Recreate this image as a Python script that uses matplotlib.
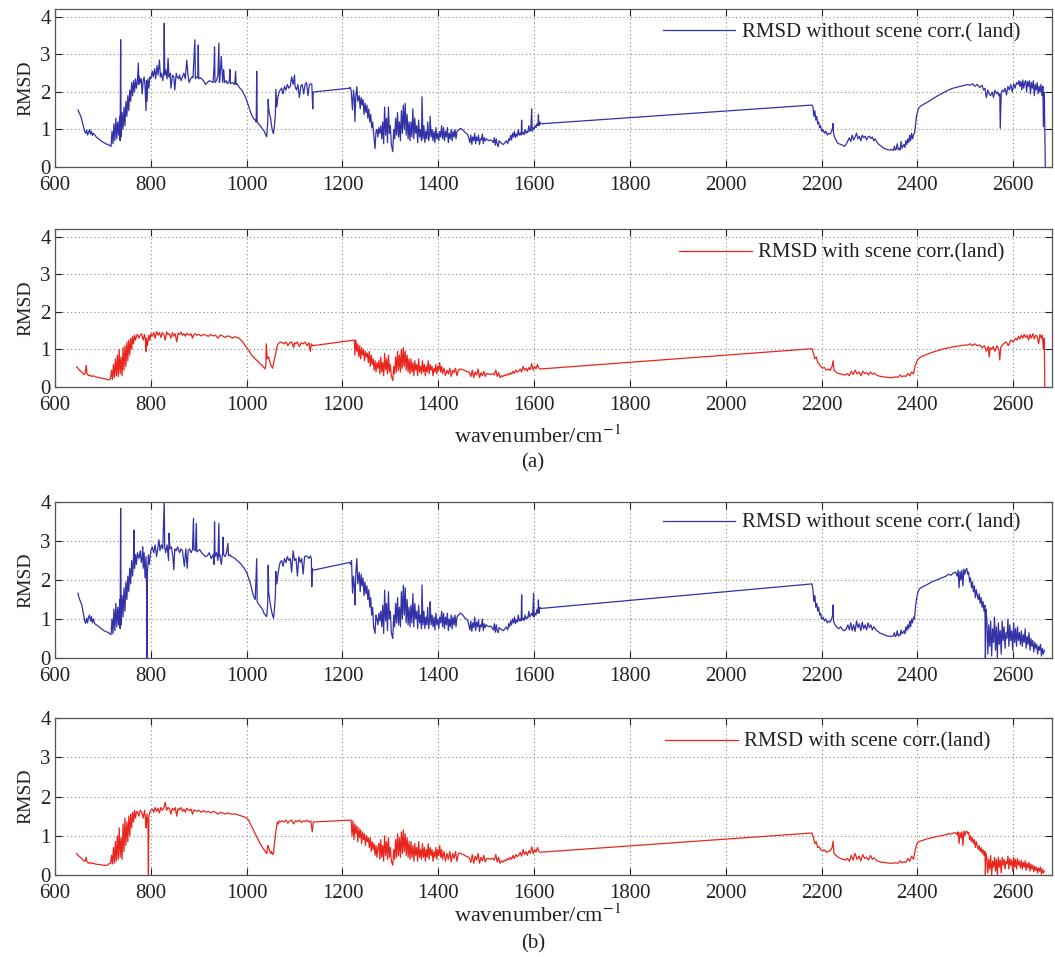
import matplotlib
matplotlib.use("Agg")
import matplotlib.pyplot as plt

# ---------------- data ----------------
wn_a_blue = [648,650,653,656,659,662,664,666,668,670,672,674,676,678,680,683,686,690,694,698,702,706,710,714,717,
             719,721,723,725,727,729,731,733,735,736,737,738,740,742,744,746,748,750,752,754,756,758,760,762,764,766,768,770,
             772,774,775,776,778,780,782,784,786,788,790,791,792,794,796,798,800,
             803,805,808,810,813,815,818,820,822,825,827,828,829,831,834,836,838,840,842,845,848,850,853,855,858,860,863,866,869,872,875,878,880,883,886,888,
             892,893,895,898,899,900,903,906,910,914,918,922,926,930,932,933,934,937,940,942,943,944,947,950,952,954,957,960,964,965,966,970,975,977,978,980,983,
             986,990,994,998,1002,1006,1010,1014,1018,1020,1021,1022,1025,1028,1031,1034,1037,1040,1042,1044,1045,1046,1048,1050,1052,1054,1056,1058,1060,1061,1063,1065,1068,1070,
             1073,1076,1079,1082,1085,1088,1091,1094,1097,1100,1101,1104,1107,1110,1113,1116,1119,1122,1125,1128,1131,1134,1136,1138,1139,
             1140,1215,
             1216,1218,1219,1221,1223,1225,1226,1228,1230,1232,1235,1237,1239,1241,1243,1245,1247,1249,1251,1253,1255,1257,1259,1261,1263,1265,1268,1270,
             1272,1274,1276,1278,1280,1282,1284,1286,1288,1290,1292,1294,1296,1298,1300,1302,1305,1307,1309,1311,1313,1315,1317,1319,1321,1323,1325,1327,1329,1331,1333,1335,1337,1339,
             1341,1343,1345,1347,1349,1351,1353,1355,1357,1359,1361,1363,1365,1366,1368,1370,1372,1374,1376,1378,1380,1382,1383,1385,1387,1389,1391,1393,1395,1397,1399,1401,1403,1405,
             1407,1409,1411,1413,1415,1417,1419,1421,1423,1425,1427,1429,1431,1433,1435,1437,1439,
             1442,1446,1450,1454,1458,1462,
             1466,1468,1470,1472,1474,1476,1478,1480,1482,1484,1486,1488,1490,1492,1494,1496,1498,1500,1503,1506,1509,1512,1515,1517,1519,1521,1523,1525,1527,1530,1533,1536,1539,1542,1545,
             1547,1549,1551,1553,1555,1557,1559,1561,1563,1565,1567,1569,1571,1573,1574,1575,1577,1579,1581,1583,1585,1587,1589,1591,1593,1595,1596,1598,1600,1602,1604,1606,1608,1609,1610,1612,1613,
             2180,
             2182,2184,2186,2188,2190,2192,2194,2196,2198,2200,2203,2206,2209,2212,2215,2218,2221,2223,2224,2225,2227,2230,2233,2236,2240,2244,2248,
             2252,2255,2258,2261,2264,2267,2270,2273,2276,2279,2282,2285,2288,2291,2294,2297,2300,2303,2306,2309,2312,2315,
             2318,2322,2326,2330,2334,2338,2342,2346,2350,2352,2354,2356,2358,2360,2362,2364,2366,2368,2370,2372,2374,2376,2378,2380,2382,2384,2386,2388,2390,2392,2394,
             2396,2398,2400,2402,2405,2410,2420,2430,2440,2450,2460,2470,2480,2490,2500,
             2505,2510,2515,2520,2525,2530,2535,2538,2541,2544,2547,2550,2553,2556,2559,2562,2565,2568,2570,2572,2573,2575,2577,2580,2583,2586,2589,2592,2595,2598,2601,2604,2607,
             2610,2612,2614,2616,2618,2620,2622,2624,2626,2628,2630,2632,2634,2636,2638,2640,2642,2644,2646,2648,2650,2652,2654,2656,2658,2660,2662,2663,2665,2667]
rmsd_a_blue = [1.52,1.45,1.38,1.25,1.10,0.95,0.90,0.98,0.85,0.92,1.00,0.88,0.95,0.84,0.90,0.86,0.80,0.76,0.72,0.68,0.65,0.62,0.60,0.58,0.55,
               0.95,0.62,1.15,0.70,1.30,0.75,1.20,0.85,1.35,0.70,3.39,0.80,1.45,1.00,1.60,1.10,1.75,1.35,1.90,1.50,2.05,1.75,2.25,1.90,2.30,2.00,2.35,2.10,
               2.30,2.77,2.20,2.40,2.25,2.35,1.95,2.30,2.40,2.15,1.50,2.30,1.75,2.35,2.10,2.40,2.35,
               2.55,2.40,2.62,2.35,2.70,2.45,2.85,2.40,2.50,2.30,2.55,3.83,2.45,2.60,2.35,2.90,2.40,2.50,2.10,2.45,2.40,2.05,2.50,2.40,2.35,2.45,2.30,2.40,2.50,2.35,2.85,2.40,2.25,2.35,2.40,2.38,
               3.39,2.35,2.40,2.38,3.25,2.35,2.38,2.35,2.30,2.20,2.25,2.30,2.28,2.25,2.70,3.20,2.25,2.30,2.45,3.30,2.25,2.30,2.95,2.25,2.60,2.25,2.30,2.22,2.30,2.60,2.22,2.25,2.20,2.55,2.20,2.22,2.15,
               2.10,2.05,1.95,1.85,1.70,1.55,1.40,1.30,1.25,1.20,2.55,1.20,1.15,1.10,1.05,1.00,0.95,0.85,0.81,1.20,1.80,1.55,1.40,1.30,1.10,0.95,0.89,1.10,1.40,2.07,1.60,1.85,2.00,2.05,
               2.10,1.95,2.15,2.05,2.20,2.10,2.15,2.40,2.20,2.45,2.15,2.05,2.20,1.85,2.15,2.20,1.95,2.20,2.25,1.90,2.20,2.22,2.20,1.55,2.00,
               2.00,2.10,
               2.12,2.05,1.86,1.52,2.05,1.80,1.21,1.90,2.14,1.75,1.90,1.55,1.85,1.65,1.80,1.40,1.70,1.45,1.65,1.30,1.55,1.20,1.40,1.05,1.20,0.89,0.49,0.95,
               1.00,0.80,1.05,0.90,1.10,0.75,1.20,0.62,1.60,0.85,1.30,0.65,1.60,0.90,1.10,0.60,0.41,1.00,0.75,1.30,0.85,1.45,0.80,1.20,0.70,1.50,0.90,1.65,1.00,1.70,0.85,1.40,0.75,1.20,
               0.70,1.20,0.80,1.55,0.75,1.30,0.90,1.10,0.65,1.25,0.80,1.00,0.70,1.87,0.75,1.10,0.65,0.95,0.75,1.20,0.70,0.90,1.35,0.80,1.00,0.70,0.95,0.65,1.05,0.75,0.90,0.70,0.95,0.80,
               1.10,0.75,1.05,0.70,0.95,0.80,1.05,0.65,0.90,0.75,1.00,0.70,0.95,0.80,1.00,0.75,0.95,
               0.98,1.03,1.00,0.95,0.90,0.85,
               0.65,0.85,0.60,0.80,0.70,0.90,0.62,0.80,0.70,0.85,0.60,0.75,0.72,0.88,0.62,0.78,0.70,0.75,0.72,0.70,0.72,0.70,0.65,0.78,0.58,0.75,0.60,0.54,0.70,0.65,0.62,0.60,0.65,0.70,0.62,
               0.75,0.70,0.85,0.72,0.90,0.80,0.95,0.78,0.88,0.82,1.00,0.85,0.90,0.85,1.25,0.88,0.92,0.86,1.00,0.90,0.95,0.92,1.10,0.95,1.00,1.55,0.95,1.05,1.00,1.10,1.05,1.15,1.10,1.39,1.10,1.20,1.15,
               1.65,
               1.60,1.35,1.50,1.25,1.35,1.15,1.20,1.05,1.10,0.95,1.00,0.90,0.95,0.85,0.90,0.88,0.95,1.05,1.16,0.90,0.80,0.72,0.65,0.62,0.60,0.58,0.55,
               0.62,0.70,0.78,0.68,0.85,0.72,0.80,0.90,0.75,0.82,0.70,0.85,0.78,0.82,0.72,0.80,0.82,0.76,0.80,0.70,0.75,0.68,
               0.62,0.58,0.54,0.50,0.48,0.46,0.45,0.47,0.44,0.55,0.45,0.48,0.62,0.46,0.50,0.45,0.68,0.50,0.55,0.60,0.52,0.70,0.60,0.75,0.65,0.85,0.70,0.90,0.75,0.85,0.90,
               1.10,1.35,1.45,1.55,1.60,1.65,1.72,1.80,1.88,1.95,2.02,2.08,2.12,2.15,2.18,
               2.20,2.18,2.22,2.15,2.20,2.12,2.18,2.05,2.10,1.85,2.05,1.95,1.90,2.00,1.85,2.05,1.95,2.00,1.90,1.95,1.03,1.95,2.05,2.00,2.10,1.92,2.15,2.05,2.20,2.00,2.22,2.10,2.25,
               2.20,2.30,2.15,2.28,2.05,2.32,2.10,2.25,2.30,2.00,2.28,2.15,2.30,1.95,2.25,2.10,2.30,1.90,2.20,2.05,2.25,1.95,2.15,2.00,2.20,1.90,2.15,1.08,2.00,0.00]

wn_a_red = [645,648,651,654,657,660,663,665,667,670,673,676,680,684,688,692,696,700,704,708,712,716,
            718,720,722,724,726,728,730,732,734,736,738,740,742,744,746,748,750,752,754,756,758,760,762,764,766,768,770,
            772,775,778,781,784,787,789,790,791,793,796,798,800,
            803,806,809,812,815,818,821,824,827,830,833,836,839,842,845,848,851,854,857,860,863,866,869,872,875,878,881,884,887,890,893,896,900,905,910,915,920,925,930,935,940,945,950,955,960,965,970,975,980,984,
            988,992,996,1000,1004,1008,1012,1016,1020,1024,1028,1032,1036,1038,1040,1041,1043,1046,1048,1050,1052,1054,1056,1058,1060,1062,1064,1066,1068,1070,
            1074,1078,1082,1086,1090,1094,1098,1100,1102,1106,1110,1114,1118,1122,1126,1130,1133,1135,1138,
            1225,
            1226,1228,1230,1232,1234,1236,1238,1240,1242,1244,1246,1248,1250,1252,1254,1256,1258,1260,1262,1264,1266,1268,1270,1272,1274,
            1276,1278,1280,1282,1284,1286,1288,1290,1292,1294,1296,1298,1300,1302,1305,1307,1309,1311,1313,1315,1317,1319,1321,1323,1325,1327,1329,1331,1333,1335,1337,1339,
            1341,1343,1345,1347,1349,1351,1353,1355,1357,1359,1361,1363,1365,1367,1369,1371,1373,1375,1377,1379,1381,1383,1385,1387,1389,1391,1393,1395,1397,1399,1401,1403,1405,1407,1409,
            1412,1415,1418,1421,1424,1427,1430,1433,1436,1439,1442,1446,
            1452,1458,1464,
            1468,1471,1474,1477,1480,1483,1486,1489,1492,1495,1498,1501,1505,1509,1513,1517,1520,1523,1526,1529,1532,1535,1538,1541,1544,1547,1550,1553,1556,1559,1562,1565,
            1568,1571,1574,1577,1580,1583,1586,1589,1592,1595,1598,1601,1604,1607,1610,1613,
            2180,
            2183,2186,2189,2192,2195,2198,2202,2206,2210,2214,2218,2222,2224,2226,2230,2235,2240,2245,2250,
            2254,2258,2262,2266,2270,2274,2278,2282,2286,2290,2294,2298,2302,2306,2310,2314,2318,
            2324,2330,2336,2342,2348,2354,2360,2364,2368,2372,2376,2380,2384,2388,2392,2395,2398,2400,
            2405,2410,2420,2430,2440,2450,2460,2470,2480,2490,2500,
            2505,2510,2515,2520,2525,2530,2535,2540,2544,2548,2550,2552,2555,2558,2562,2566,2570,2572,2574,2576,2580,2585,2590,2595,2600,2605,
            2608,2611,2614,2617,2620,2623,2626,2629,2632,2635,2638,2641,2644,2647,2650,2653,2656,2659,2661,2663,2665,2666]
rmsd_a_red = [0.54,0.50,0.45,0.42,0.38,0.33,0.35,0.58,0.35,0.30,0.32,0.28,0.30,0.27,0.26,0.25,0.24,0.23,0.22,0.20,0.19,0.22,
              0.45,0.20,0.60,0.25,0.75,0.30,0.85,0.28,1.00,0.35,0.80,0.30,1.05,0.45,1.10,0.55,1.20,0.70,1.25,0.85,1.30,1.00,1.35,1.15,1.38,1.25,1.35,
              1.40,1.30,1.38,1.42,1.25,1.40,1.20,0.95,1.30,1.10,1.38,1.25,1.42,
              1.35,1.45,1.30,1.48,1.38,1.45,1.32,1.45,1.40,1.25,1.47,1.40,1.42,1.30,1.45,1.35,1.42,1.20,1.44,1.40,1.46,1.38,1.42,1.35,1.43,1.40,1.38,1.42,1.30,1.40,1.42,1.38,1.40,1.36,1.40,1.38,1.35,1.40,1.36,1.38,1.30,1.38,1.36,1.32,1.36,1.35,1.30,1.34,1.32,1.30,
              1.25,1.20,1.12,1.05,0.98,0.90,0.82,0.78,0.72,0.68,0.62,0.58,0.52,0.48,0.55,1.15,0.75,0.80,0.70,0.60,0.55,0.50,0.60,0.75,0.85,1.00,1.10,1.15,1.18,1.20,
              1.18,1.15,1.20,1.10,1.18,1.20,1.05,1.18,1.15,1.20,1.08,1.18,1.15,1.20,1.10,1.18,0.95,1.15,1.10,
              1.25,
              0.85,1.25,0.95,1.15,0.80,1.10,0.75,1.05,0.85,1.00,0.70,0.95,0.80,0.90,0.65,0.95,0.55,0.85,0.60,0.75,0.45,0.70,0.40,0.65,0.50,
              0.70,0.35,0.80,0.40,0.65,0.30,0.90,0.45,0.75,0.35,0.85,0.40,0.60,0.30,0.17,0.55,0.35,0.80,0.40,0.95,0.45,0.85,0.40,1.00,0.50,1.05,0.55,0.95,0.45,0.85,0.40,0.75,
              0.35,0.75,0.40,0.65,0.30,0.70,0.45,0.60,0.30,0.75,0.40,0.55,0.35,0.70,0.40,0.60,0.30,0.55,0.40,0.70,0.35,0.60,0.45,0.55,0.30,0.50,0.40,0.60,0.35,0.55,0.45,0.65,0.40,0.55,0.35,
              0.50,0.30,0.45,0.35,0.50,0.28,0.45,0.38,0.50,0.30,0.45,0.48,
              0.46,0.42,0.40,
              0.28,0.45,0.25,0.40,0.32,0.48,0.25,0.38,0.30,0.42,0.28,0.36,0.35,0.33,0.36,0.32,0.45,0.28,0.38,0.25,0.30,0.28,0.32,0.30,0.35,0.32,0.38,0.34,0.42,0.36,0.45,0.40,
              0.42,0.48,0.40,0.55,0.45,0.50,0.42,0.52,0.46,0.62,0.45,0.55,0.48,0.60,0.50,0.48,
              1.02,
              0.90,0.75,0.80,0.65,0.62,0.55,0.50,0.52,0.45,0.48,0.44,0.55,0.70,0.45,0.40,0.36,0.35,0.33,0.32,
              0.36,0.30,0.42,0.33,0.45,0.35,0.40,0.30,0.42,0.36,0.38,0.32,0.40,0.34,0.37,0.33,0.30,
              0.28,0.27,0.26,0.25,0.25,0.27,0.26,0.32,0.27,0.30,0.28,0.36,0.30,0.40,0.35,0.55,0.65,0.72,
              0.78,0.82,0.87,0.92,0.96,1.00,1.03,1.06,1.08,1.10,1.12,
              1.12,1.15,1.10,1.15,1.10,1.12,1.05,1.10,0.95,1.08,0.80,1.05,1.00,1.08,0.95,1.10,1.00,0.72,1.05,1.10,1.15,1.20,1.10,1.25,1.20,1.30,
              1.25,1.35,1.28,1.38,1.30,1.40,1.32,1.38,1.25,1.40,1.30,1.42,1.28,1.38,1.35,1.15,1.40,1.30,1.38,1.00,1.30,0.00]

wn_b_blue = [648,650,653,656,659,662,664,666,668,670,672,674,676,678,680,683,686,690,694,698,702,706,710,714,717,
             719,721,723,725,727,729,731,733,735,736,737,738,740,742,744,746,748,750,752,754,756,758,760,762,764,765,766,768,770,
             772,775,778,780,782,783,784,786,788,790,791,792,793,795,797,800,
             803,806,809,812,815,817,819,822,825,828,829,831,834,837,838,840,843,846,848,850,853,856,860,863,866,870,873,876,878,881,884,887,
             889,890,893,895,896,899,902,906,910,914,918,922,926,930,932,933,934,937,940,942,943,944,947,950,951,952,955,958,961,962,965,968,972,976,980,985,990,995,1000,
             1004,1008,1012,1014,1016,1018,1021,1022,1024,1027,1030,1033,1036,1039,1042,1044,1045,1046,1048,1050,1052,1054,1056,1058,1060,1061,1063,1066,1068,1070,
             1073,1076,1079,1082,1085,1088,1091,1094,1097,1100,1103,1106,1109,1112,1115,1118,1121,1124,1127,1130,1133,1135,1136,1137,1138,
             1215,
             1217,1219,1221,1223,1225,1226,1228,1230,1232,1235,1237,1239,1241,1243,1245,1247,1249,1251,1253,1255,1257,1259,1261,1263,1265,1268,1270,
             1272,1274,1276,1278,1280,1282,1284,1286,1288,1290,1292,1294,1296,1298,1300,1302,1305,1307,1309,1311,1313,1315,1317,1319,1321,1323,1325,1327,1329,1331,1333,1335,1337,1339,
             1341,1343,1345,1347,1349,1351,1353,1355,1357,1359,1361,1363,1365,1366,1368,1370,1372,1374,1376,1378,1380,1382,1383,1385,1387,1389,1391,1393,1395,1397,1399,1401,1403,1405,
             1407,1409,1411,1413,1415,1417,1419,1421,1423,1425,1427,1429,1431,1433,1435,1437,1439,
             1442,1446,1450,1454,1458,1462,
             1466,1468,1470,1472,1474,1476,1478,1480,1482,1484,1486,1488,1490,1492,1494,1496,1498,1500,1503,1506,1509,1512,1515,1517,1519,1521,1523,1525,1527,1530,1533,1536,1539,1542,1545,
             1547,1549,1551,1553,1555,1557,1559,1561,1563,1565,1567,1569,1571,1573,1574,1575,1577,1579,1581,1583,1585,1587,1589,1591,1593,1595,1597,1599,1600,1602,1604,1606,1608,1609,1610,1612,1613,
             2180,
             2182,2184,2186,2188,2190,2192,2194,2196,2198,2200,2203,2206,2209,2212,2215,2218,2221,2223,2224,2225,2227,2230,2233,2236,2240,2244,2248,
             2252,2255,2258,2261,2264,2267,2270,2273,2276,2279,2282,2285,2288,2291,2294,2297,2300,2303,2306,2309,2312,2315,
             2318,2322,2326,2330,2334,2338,2342,2346,2350,2352,2354,2356,2358,2360,2362,2364,2366,2368,2370,2372,2374,2376,2378,2380,2382,2384,2386,2388,2390,2392,2394,
             2396,2398,2400,2402,2405,2410,2420,2430,2440,2450,2460,2465,2470,2475,2480,2483,2485,2487,2489,2491,2493,2495,2497,2499,2501,2503,
             2505,2507,2509,2511,2513,2515,2517,2519,2521,2523,2525,2527,2529,2531,2533,2535,2537,2539,2541,2542,2543,
             2545,2547,2549,2551,2553,2555,2557,2559,2561,2563,2565,2567,2569,2571,2573,2575,2577,2579,2581,2583,2585,2587,2589,2591,2593,2595,2597,2599,
             2601,2603,2605,2607,2609,2611,2613,2615,2617,2619,2621,2623,2625,2627,2629,2631,2633,2635,2637,2639,2641,2643,2645,2647,2649,2651,2653,2655,2657,2659,2661,2663,2665]
rmsd_b_blue = [1.66,1.55,1.45,1.36,1.15,0.95,0.89,1.02,0.90,1.05,1.10,0.95,1.06,0.90,1.00,0.88,0.85,0.82,0.78,0.74,0.70,0.68,0.66,0.63,0.60,
               1.00,0.62,1.25,0.70,1.40,0.80,1.30,0.85,1.50,0.75,3.84,0.85,1.60,1.05,1.80,1.20,1.95,1.50,2.10,1.70,2.30,1.90,2.50,2.10,2.60,3.28,2.30,2.65,2.40,
               2.70,2.55,2.75,2.45,2.60,2.85,2.30,2.70,2.05,2.60,2.00,0.00,2.20,2.65,2.40,2.75,
               2.85,2.70,2.90,2.60,2.85,3.03,2.75,2.90,2.80,4.05,2.85,2.70,2.90,2.50,3.20,2.80,2.85,2.60,2.26,2.80,2.75,2.85,2.70,2.80,2.75,2.35,2.80,2.30,2.75,2.80,2.70,2.78,
               3.58,2.78,2.75,3.45,2.72,2.75,2.78,2.70,2.65,2.60,2.62,2.70,2.55,2.65,2.40,3.49,2.60,2.70,2.50,3.45,2.60,2.65,2.40,2.70,3.10,2.65,2.60,2.70,2.94,2.62,2.65,2.60,2.58,2.55,2.50,2.45,2.38,2.30,2.20,
               2.05,1.90,1.70,1.60,1.55,1.50,2.55,1.45,1.40,1.35,1.30,1.25,1.15,1.10,1.06,1.40,2.38,1.70,1.50,1.35,1.20,1.10,1.02,1.25,1.60,2.22,1.90,2.20,2.35,2.45,
               2.50,2.35,2.55,2.45,2.60,2.50,2.55,2.20,2.75,2.50,2.55,2.10,2.60,2.45,2.55,2.15,2.60,2.62,2.60,2.55,2.62,2.55,1.83,2.30,2.25,
               2.45,
               2.40,2.50,1.66,2.10,1.80,1.36,2.20,2.55,1.90,2.20,1.70,2.15,1.85,2.05,1.60,1.95,1.65,1.85,1.50,1.75,1.30,1.55,1.10,1.30,0.80,0.63,1.10,
               1.00,0.85,1.15,0.95,1.20,0.80,1.35,0.63,1.74,0.95,1.40,0.70,1.70,1.00,1.20,0.65,0.50,1.10,0.80,1.40,0.90,1.55,0.85,1.30,0.80,1.70,1.00,1.87,1.10,1.80,0.90,1.50,0.85,1.30,
               0.80,1.35,0.90,1.65,0.80,1.40,1.00,1.20,0.75,1.35,0.90,1.10,0.75,1.87,0.85,1.20,0.75,1.05,0.85,1.30,0.75,1.00,1.44,0.85,1.10,0.80,1.05,0.72,1.15,0.85,1.00,0.75,1.05,0.90,
               1.20,0.80,1.15,0.75,1.05,0.85,1.15,0.70,1.00,0.80,1.10,0.75,1.05,0.85,1.10,0.80,1.05,
               1.10,1.15,1.12,1.05,1.00,0.95,
               0.72,0.95,0.68,0.90,0.78,1.05,0.70,0.92,0.80,0.98,0.68,0.85,0.80,1.00,0.70,0.88,0.78,0.85,0.82,0.80,0.82,0.78,0.72,0.88,0.66,0.85,0.70,0.65,0.78,0.75,0.72,0.70,0.75,0.80,0.72,
               0.88,0.80,0.95,0.85,1.00,0.90,1.05,0.88,0.98,0.92,1.10,0.95,1.00,0.95,1.62,0.98,1.02,0.96,1.10,1.00,1.05,1.02,1.20,1.05,1.10,1.15,1.08,1.66,1.05,1.15,1.10,1.25,1.15,1.49,1.15,1.30,1.27,
               1.90,
               1.75,1.45,1.60,1.30,1.40,1.20,1.30,1.10,1.15,1.00,1.05,0.95,1.00,0.90,0.95,0.92,1.00,1.10,1.36,0.95,0.88,0.82,0.78,0.75,0.80,0.72,0.70,
               0.75,0.85,0.72,0.90,0.70,0.85,0.68,0.95,0.78,0.88,0.70,0.92,0.75,0.85,0.72,0.90,0.78,0.85,0.72,0.80,0.75,0.70,
               0.68,0.64,0.62,0.60,0.58,0.56,0.56,0.55,0.57,0.65,0.55,0.58,0.70,0.56,0.60,0.58,0.72,0.62,0.65,0.70,0.62,0.80,0.70,0.85,0.75,0.95,0.80,1.00,0.90,1.05,1.00,
               1.30,1.50,1.62,1.72,1.78,1.82,1.88,1.95,2.00,2.05,2.10,2.15,2.12,2.18,2.20,2.10,2.25,1.80,2.22,2.00,2.25,1.85,2.28,2.15,2.25,2.30,
               2.15,2.20,1.95,2.05,1.80,1.95,1.70,1.85,1.55,1.75,1.60,1.50,1.65,1.40,1.55,1.30,1.45,1.20,1.35,0.00,1.25,
               1.00,0.10,0.85,0.30,0.95,0.05,0.75,0.40,1.05,0.20,0.80,0.00,0.90,0.35,0.70,0.10,0.95,0.45,0.80,0.25,0.65,0.50,1.00,0.30,0.85,0.45,0.70,0.20,
               0.90,0.40,0.75,0.30,0.80,0.45,0.65,0.35,0.70,0.30,0.60,0.40,0.75,0.25,0.55,0.35,0.65,0.20,0.50,0.30,0.45,0.15,0.40,0.25,0.35,0.10,0.30,0.20,0.35,0.05,0.25,0.10,0.20]

wn_b_red = [645,648,651,654,657,660,663,665,667,670,673,676,680,684,688,692,696,700,704,708,712,716,
            718,720,722,724,726,728,730,732,734,736,738,740,742,744,746,748,750,752,754,756,758,760,762,764,766,768,770,
            772,775,778,781,784,787,789,790,792,794,795,796,798,800,
            803,806,809,812,815,818,821,824,827,830,833,836,839,842,845,848,851,854,857,860,863,866,869,872,875,878,881,884,887,890,893,896,900,905,910,915,920,925,930,935,940,945,950,955,960,965,970,975,980,985,990,995,1000,
            1004,1008,1012,1016,1020,1024,1028,1032,1036,1040,1042,1044,1046,1048,1050,1052,1054,1056,1058,1060,1062,1064,1066,1068,1070,
            1074,1078,1082,1086,1090,1094,1098,1102,1106,1110,1114,1118,1122,1126,1130,1134,1137,1139,
            1218,
            1220,1222,1224,1226,1228,1230,1232,1234,1236,1238,1240,1242,1244,1246,1248,1250,1252,1254,1256,1258,1260,1262,1264,1266,1268,1270,1272,1274,
            1276,1278,1280,1282,1284,1286,1288,1290,1292,1294,1296,1298,1300,1302,1305,1307,1309,1311,1313,1315,1317,1319,1321,1323,1325,1327,1329,1331,1333,1335,1337,1339,
            1341,1343,1345,1347,1349,1351,1353,1355,1357,1359,1361,1363,1365,1367,1369,1371,1373,1375,1377,1379,1381,1383,1385,1387,1389,1391,1393,1395,1397,1399,1401,1403,1405,1407,1409,
            1412,1415,1418,1421,1424,1427,1430,1433,1436,1439,1442,1446,
            1452,1458,1464,
            1468,1471,1474,1477,1480,1483,1486,1489,1492,1495,1498,1501,1505,1509,1513,1517,1520,1523,1526,1529,1532,1535,1538,1541,1544,1547,1550,1553,1556,1559,1562,1565,
            1568,1571,1574,1577,1580,1583,1586,1589,1592,1595,1598,1601,1604,1607,1610,1613,
            2180,
            2183,2186,2189,2192,2195,2198,2202,2206,2210,2214,2218,2222,2224,2226,2230,2235,2240,2245,2250,
            2254,2258,2262,2266,2270,2274,2278,2282,2286,2290,2294,2298,2302,2306,2310,2314,2318,
            2324,2330,2336,2342,2348,2354,2360,2364,2368,2372,2376,2380,2384,2388,2392,2395,2398,2400,
            2405,2410,2420,2430,2440,2450,2460,2465,2470,2475,2480,2483,2485,2487,2489,2491,2493,2495,2497,2499,2501,2503,
            2505,2507,2509,2511,2513,2515,2517,2519,2521,2523,2525,2527,2529,2531,2533,2535,2537,2539,2541,2542,2543,
            2545,2547,2549,2551,2553,2555,2557,2559,2561,2563,2565,2567,2569,2571,2573,2575,2577,2579,2581,2583,2585,2587,2589,2591,2593,2595,2597,2599,
            2601,2603,2605,2607,2609,2611,2613,2615,2617,2619,2621,2623,2625,2627,2629,2631,2633,2635,2637,2639,2641,2643,2645,2647,2649,2651,2653,2655,2657,2659,2661,2663,2665]
rmsd_b_red = [0.55,0.50,0.47,0.44,0.40,0.36,0.35,0.45,0.33,0.30,0.32,0.29,0.30,0.28,0.27,0.27,0.26,0.25,0.25,0.24,0.28,0.30,
              0.50,0.28,0.70,0.30,0.85,0.35,1.00,0.40,1.20,0.45,0.95,0.40,1.30,0.60,1.45,0.75,1.35,0.85,1.50,1.00,1.55,1.20,1.60,1.35,1.65,1.45,1.60,
              1.62,1.50,1.65,1.60,1.45,1.65,1.40,1.20,1.55,1.30,0.00,1.50,1.60,1.65,
              1.68,1.60,1.72,1.62,1.70,1.58,1.72,1.65,1.70,1.85,1.65,1.72,1.68,1.55,1.70,1.65,1.72,1.50,1.70,1.66,1.72,1.62,1.68,1.60,1.70,1.66,1.64,1.68,1.55,1.66,1.64,1.62,1.65,1.60,1.64,1.60,1.62,1.58,1.62,1.60,1.55,1.60,1.58,1.55,1.58,1.56,1.55,1.56,1.54,1.52,1.50,1.48,1.45,
              1.40,1.30,1.20,1.10,1.00,0.90,0.80,0.72,0.65,0.58,0.55,0.75,0.70,0.62,0.55,0.60,0.52,0.55,0.80,1.00,1.20,1.35,1.30,1.38,1.35,
              1.38,1.35,1.40,1.32,1.38,1.40,1.30,1.38,1.36,1.40,1.34,1.38,1.36,1.40,1.35,1.38,1.10,1.35,
              1.40,
              1.00,1.38,0.90,1.30,1.05,1.25,0.85,1.20,0.95,1.15,0.80,1.10,0.90,1.05,0.75,1.00,0.85,0.95,0.70,0.95,0.60,0.85,0.65,0.80,0.50,0.75,0.45,0.70,
              0.80,0.40,0.90,0.45,0.75,0.35,1.00,0.50,0.85,0.40,0.95,0.45,0.70,0.35,0.25,0.65,0.40,0.90,0.45,1.05,0.50,0.95,0.45,1.10,0.55,1.15,0.60,1.05,0.50,0.95,0.45,0.85,
              0.40,0.85,0.45,0.75,0.35,0.80,0.50,0.70,0.35,0.85,0.45,0.65,0.40,0.80,0.45,0.70,0.35,0.65,0.45,0.80,0.40,0.70,0.50,0.65,0.35,0.60,0.45,0.70,0.40,0.65,0.50,0.75,0.45,0.65,0.40,
              0.60,0.35,0.55,0.40,0.60,0.33,0.55,0.42,0.60,0.35,0.55,0.55,
              0.52,0.48,0.45,
              0.32,0.52,0.30,0.48,0.38,0.55,0.30,0.45,0.36,0.50,0.33,0.42,0.42,0.40,0.43,0.38,0.52,0.33,0.45,0.30,0.36,0.33,0.38,0.36,0.42,0.38,0.45,0.40,0.50,0.42,0.52,0.47,
              0.50,0.58,0.48,0.65,0.52,0.60,0.50,0.62,0.55,0.72,0.54,0.65,0.58,0.70,0.60,0.58,
              1.07,
              0.95,0.80,0.85,0.70,0.72,0.65,0.62,0.64,0.58,0.60,0.62,0.70,0.86,0.55,0.50,0.45,0.42,0.40,0.38,
              0.42,0.35,0.50,0.38,0.55,0.40,0.48,0.36,0.52,0.42,0.45,0.38,0.50,0.40,0.44,0.38,0.35,
              0.33,0.32,0.31,0.30,0.30,0.31,0.30,0.36,0.31,0.34,0.32,0.42,0.35,0.48,0.40,0.60,0.75,0.82,
              0.86,0.88,0.92,0.95,0.98,1.00,1.03,1.05,1.04,1.07,1.08,1.02,1.10,0.80,1.08,0.95,1.10,0.75,1.12,1.00,1.10,1.12,
              1.05,1.08,0.90,1.00,0.85,0.95,0.80,0.90,0.70,0.85,0.75,0.65,0.75,0.60,0.70,0.55,0.65,0.50,0.60,0.00,0.55,
              0.45,0.05,0.40,0.15,0.50,0.00,0.35,0.20,0.45,0.10,0.40,0.00,0.45,0.20,0.38,0.05,0.45,0.25,0.40,0.15,0.35,0.28,0.48,0.15,0.42,0.25,0.38,0.10,
              0.45,0.20,0.40,0.15,0.42,0.25,0.35,0.18,0.38,0.15,0.32,0.20,0.36,0.12,0.30,0.18,0.32,0.10,0.28,0.15,0.25,0.08,0.22,0.12,0.20,0.05,0.18,0.10,0.20,0.02,0.15,0.05,0.10]

label_without = "RMSD without scene corr.( land)"
label_with = "RMSD with scene corr.(land)"
x_ticks = [600, 800, 1000, 1200, 1400, 1600, 1800, 2000, 2200, 2400, 2600]
y_ticks = [0, 1, 2, 3, 4]

bad = [(nm, len(a), len(b)) for nm, a, b in [("a_blue", wn_a_blue, rmsd_a_blue), ("a_red", wn_a_red, rmsd_a_red),
                                             ("b_blue", wn_b_blue, rmsd_b_blue), ("b_red", wn_b_red, rmsd_b_red)]
       if len(a) != len(b)]
if bad:
    raise SystemExit("LENGTH MISMATCH: %s" % bad)

# ---------------- figure ----------------
plt.rcParams['font.family'] = ['Liberation Serif', 'DejaVu Serif']
plt.rcParams['mathtext.fontset'] = 'stix'

W, H = 1055, 957
fig = plt.figure(figsize=(W / 100, H / 100), dpi=100)

BLUE = '#3232A6'
RED = '#E8261E'
TXT = '#222222'

panels = [
    # (top px, bottom px, ymax, x, y, color, label, legend y, legend right)
    (9, 167, 4.21, wn_a_blue, rmsd_a_blue, BLUE, label_without, 0.85, 0.968),
    (229, 387, 4.21, wn_a_red, rmsd_a_red, RED, label_with, 0.848, 0.952),
    (502, 658, 4.0, wn_b_blue, rmsd_b_blue, BLUE, label_without, 0.865, 0.968),
    (718, 875, 4.0, wn_b_red, rmsd_b_red, RED, label_with, 0.847, 0.938),
]

left_px, right_px = 55, 1052
for top, bot, ymax, xs, ys, col, lab, ly, lx in panels:
    ax = fig.add_axes([left_px / W, 1 - bot / H, (right_px - left_px) / W, (bot - top) / H])
    ax.plot(xs, ys, color=col, lw=0.9, label=lab)
    ax.set_xlim(600, 2681)
    ax.set_ylim(0, ymax)
    ax.set_xticks(x_ticks)
    ax.set_yticks(y_ticks)
    ax.tick_params(direction='in', top=True, right=True, length=5, width=0.8,
                   labelsize=15, colors=TXT)
    ax.tick_params(axis='x', pad=6.5)
    ax.tick_params(axis='y', pad=3)
    ax.grid(True, linestyle=(0, (1, 2.5)), color='#8a8a8a', lw=0.8)
    for s in ax.spines.values():
        s.set_color('#555555')
        s.set_linewidth(0.9)
    ax.set_ylabel('RMSD', fontsize=14, labelpad=4, color=TXT)
    leg = ax.legend(loc='center right', bbox_to_anchor=(lx, ly), frameon=False,
                    fontsize=15, handlelength=3.5, handletextpad=0.3, borderpad=0,
                    borderaxespad=0)
    for t in leg.get_texts():
        t.set_color(TXT)

fig.text(538 / W, 1 - 437 / H, 'wavenumber/cm$^{-1}$', ha='center', va='center', fontsize=16, color=TXT)
fig.text(533 / W, 1 - 463 / H, '(a)', ha='center', va='center', fontsize=15, color=TXT)
fig.text(538 / W, 1 - 916 / H, 'wavenumber/cm$^{-1}$', ha='center', va='center', fontsize=16, color=TXT)
fig.text(533 / W, 1 - 944 / H, '(b)', ha='center', va='center', fontsize=15, color=TXT)

fig.savefig('out.png', dpi=100)
